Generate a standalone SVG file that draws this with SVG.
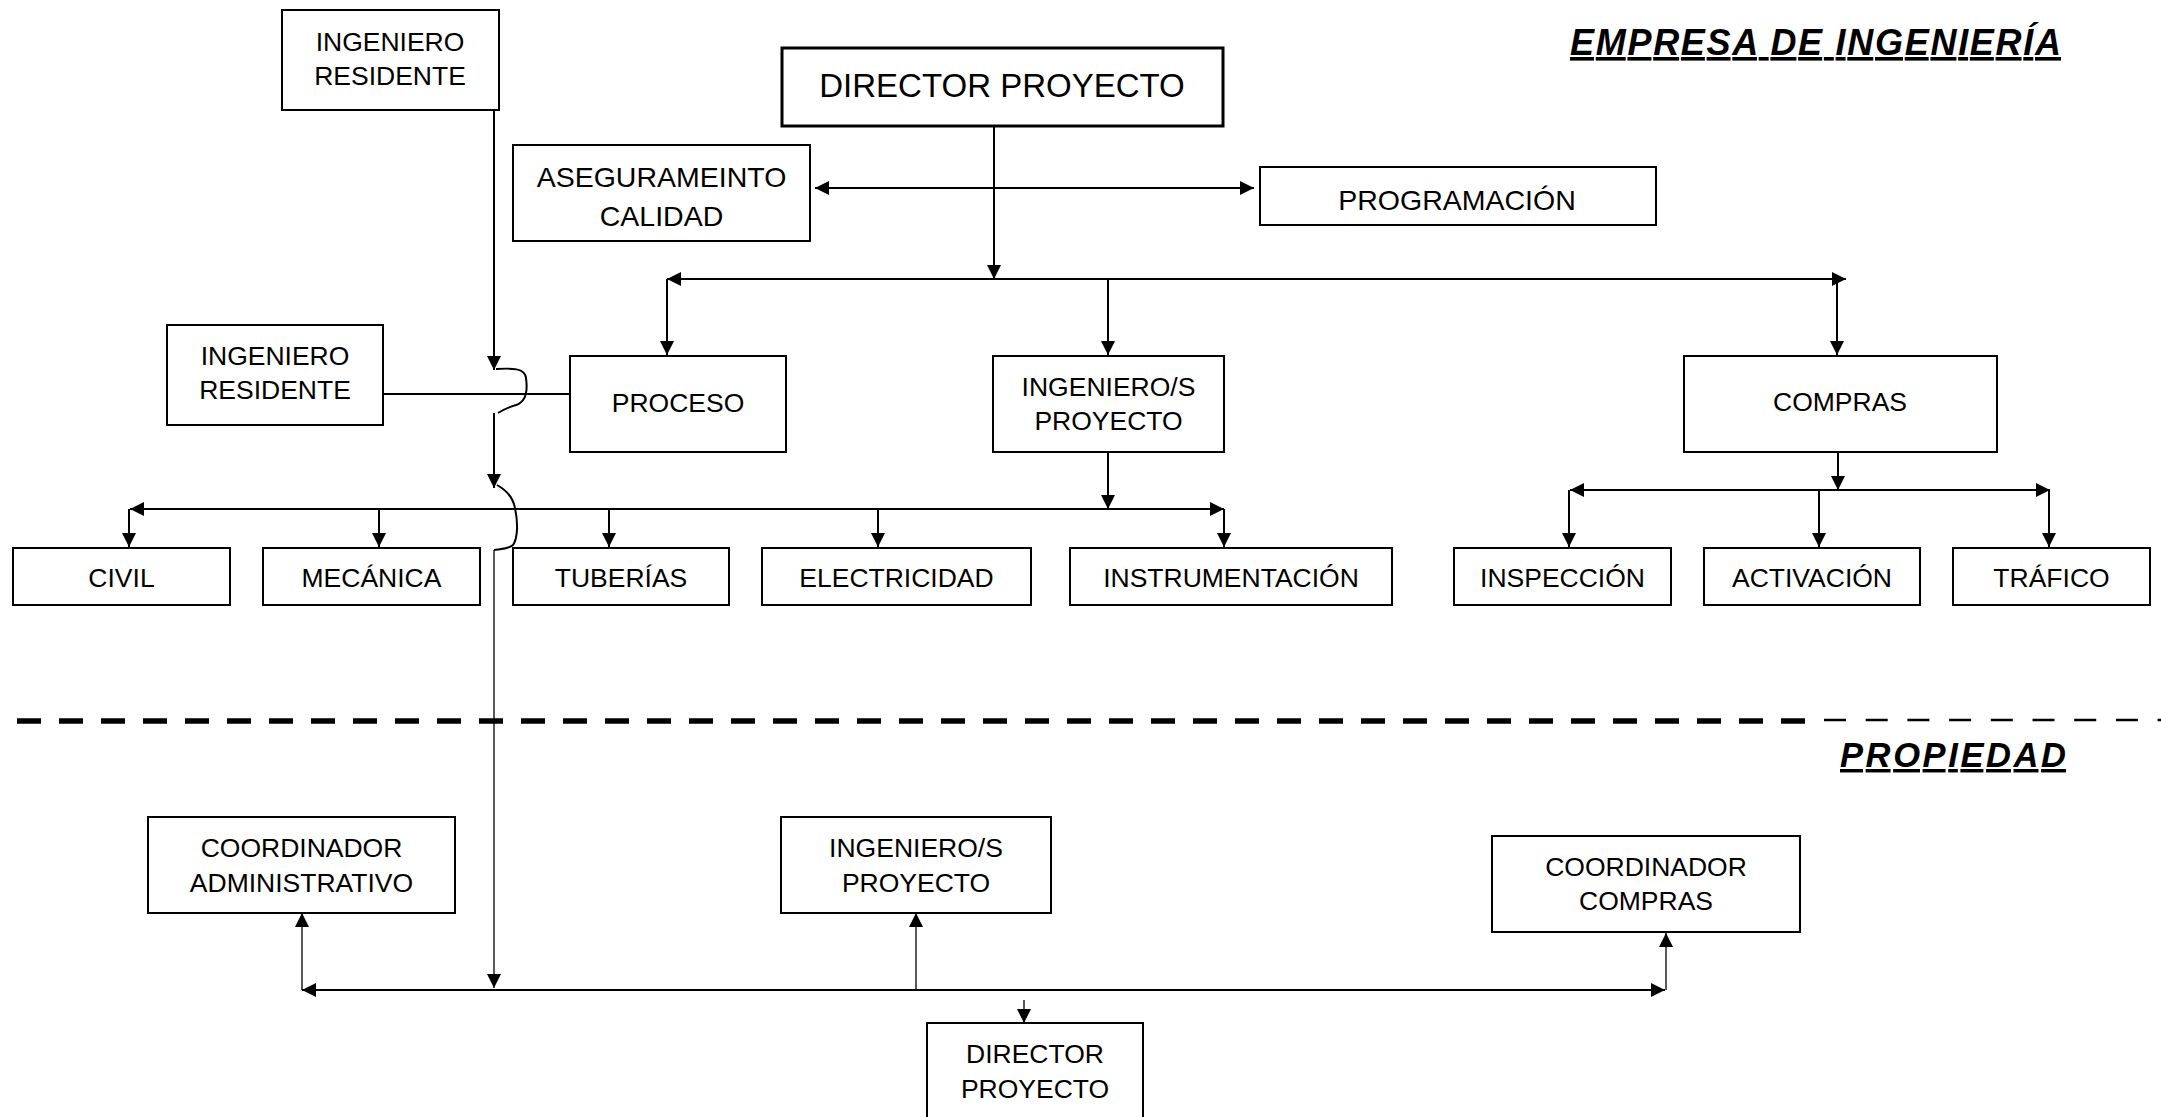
<svg xmlns="http://www.w3.org/2000/svg" width="2161" height="1117" viewBox="0 0 2161 1117">
<style>
.box{fill:#fff;stroke:#000;stroke-width:2}
.bx3{stroke-width:3}
.t{font-family:"Liberation Sans",Arial,sans-serif;font-size:26.5px;text-anchor:middle;fill:#000}
.big{font-size:33px}
.mid{font-size:28.5px}
.title{font-family:"Liberation Sans",Arial,sans-serif;font-weight:bold;font-style:italic;text-decoration:underline;fill:#000}
.c{stroke:#000;stroke-width:2;fill:none}
.thin{stroke-width:1.3}
.ae{marker-end:url(#ah)}
.ab{marker-start:url(#ah);marker-end:url(#ah)}
</style>
<defs>
<marker id="ah" markerUnits="userSpaceOnUse" viewBox="0 0 14 14" markerWidth="14" markerHeight="14" refX="14" refY="7" orient="auto-start-reverse">
<path d="M0,0 L14,7 L0,14 z" fill="#000"/>
</marker>
</defs>
<rect width="2161" height="1117" fill="#fff"/>

<g id="titles">
<text class="title" x="1570" y="55" font-size="36" textLength="491" lengthAdjust="spacing">EMPRESA DE INGENIERÍA</text>
<text class="title" x="1840" y="767" font-size="34.5" textLength="226" lengthAdjust="spacing">PROPIEDAD</text>
</g>

<g id="separator">
<path d="M17,721 H1806" stroke="#000" stroke-width="5.5" stroke-dasharray="24 18"/>
<path d="M1824,720 H2161" stroke="#000" stroke-width="2.5" stroke-dasharray="22 19.7"/>
</g>

<g id="connectors">
<path class="c ae" d="M994,126 V279"/>
<path class="c ab" d="M815,188 H1254"/>
<path class="c ab" d="M667,279 H1846"/>
<path class="c ae" d="M667,279 V355"/>
<path class="c ae" d="M1108,279 V355"/>
<path class="c ae" d="M1837,279 V355"/>
<path class="c ae" d="M494,106 V370"/>
<path class="c" d="M496,369 C512,368 525,368 526,378 C528,392 525,402 516,405 C508,407 503,410 498,413"/>
<path class="c ae" d="M494,413 V488"/>
<path class="c" d="M497,485 C506,490 513,497 515,508 C518,522 518,538 513,545 C509,549 500,549 494,550"/>
<path class="c thin ae" d="M494,550 V988"/>
<path class="c" d="M379,394 H570"/>
<path class="c ae" d="M1108,452 V509"/>
<path class="c ab" d="M130,509 H1224"/>
<path class="c ae" d="M129,509 V547"/>
<path class="c ae" d="M379,509 V547"/>
<path class="c ae" d="M609,509 V547"/>
<path class="c ae" d="M878,509 V547"/>
<path class="c ae" d="M1224,509 V547"/>
<path class="c ae" d="M1838,452 V490"/>
<path class="c ab" d="M1570,490 H2050"/>
<path class="c ae" d="M1569,490 V547"/>
<path class="c ae" d="M1819,490 V547"/>
<path class="c ae" d="M2049,490 V547"/>
<path class="c ab" d="M302,990 H1665"/>
<path class="c thin ae" d="M302,990 V913"/>
<path class="c thin ae" d="M916,990 V913"/>
<path class="c thin ae" d="M1666,990 V933"/>
<path class="c thin ae" d="M1024,1000 V1023"/>
</g>

<g id="n-ing-residente-1"><rect class="box" x="282" y="10" width="217" height="100"/><text class="t" x="390" y="51">INGENIERO</text><text class="t" x="390" y="85">RESIDENTE</text></g>
<g id="n-director-proyecto"><rect class="box bx3" x="782" y="48" width="441" height="78"/><text class="t big" x="1002" y="97">DIRECTOR PROYECTO</text></g>
<g id="n-aseguramiento"><rect class="box" x="513" y="145" width="297" height="96"/><text class="t mid" x="661.5" y="187">ASEGURAMEINTO</text><text class="t mid" x="661.5" y="226">CALIDAD</text></g>
<g id="n-programacion"><rect class="box" x="1260" y="167" width="396" height="58"/><text class="t mid" x="1457" y="210">PROGRAMACIÓN</text></g>
<g id="n-ing-residente-2"><rect class="box" x="167" y="325" width="216" height="100"/><text class="t" x="275" y="365">INGENIERO</text><text class="t" x="275" y="399">RESIDENTE</text></g>
<g id="n-proceso"><rect class="box" x="570" y="356" width="216" height="96"/><text class="t" x="678" y="412">PROCESO</text></g>
<g id="n-ingenieros-proyecto"><rect class="box" x="993" y="356" width="231" height="96"/><text class="t" x="1108.5" y="396">INGENIERO/S</text><text class="t" x="1108.5" y="430">PROYECTO</text></g>
<g id="n-compras"><rect class="box" x="1684" y="356" width="313" height="96"/><text class="t" x="1840" y="411">COMPRAS</text></g>

<g id="n-civil"><rect class="box" x="13" y="548" width="217" height="57"/><text class="t" x="121.5" y="587">CIVIL</text></g>
<g id="n-mecanica"><rect class="box" x="263" y="548" width="217" height="57"/><text class="t" x="371.5" y="587">MECÁNICA</text></g>
<g id="n-tuberias"><rect class="box" x="513" y="548" width="216" height="57"/><text class="t" x="621" y="587">TUBERÍAS</text></g>
<g id="n-electricidad"><rect class="box" x="762" y="548" width="269" height="57"/><text class="t" x="896.5" y="587">ELECTRICIDAD</text></g>
<g id="n-instrumentacion"><rect class="box" x="1070" y="548" width="322" height="57"/><text class="t" x="1231" y="587">INSTRUMENTACIÓN</text></g>
<g id="n-inspeccion"><rect class="box" x="1454" y="548" width="217" height="57"/><text class="t" x="1562.5" y="587">INSPECCIÓN</text></g>
<g id="n-activacion"><rect class="box" x="1704" y="548" width="216" height="57"/><text class="t" x="1812" y="587">ACTIVACIÓN</text></g>
<g id="n-trafico"><rect class="box" x="1953" y="548" width="197" height="57"/><text class="t" x="2051.5" y="587">TRÁFICO</text></g>

<g id="n-coordinador-administrativo"><rect class="box" x="148" y="817" width="307" height="96"/><text class="t" x="301.5" y="857">COORDINADOR</text><text class="t" x="301.5" y="892">ADMINISTRATIVO</text></g>
<g id="n-ingenieros-proyecto-2"><rect class="box" x="781" y="817" width="270" height="96"/><text class="t" x="916" y="857">INGENIERO/S</text><text class="t" x="916" y="892">PROYECTO</text></g>
<g id="n-coordinador-compras"><rect class="box" x="1492" y="836" width="308" height="96"/><text class="t" x="1646" y="876">COORDINADOR</text><text class="t" x="1646" y="910">COMPRAS</text></g>
<g id="n-director-proyecto-2"><rect class="box" x="927" y="1023" width="216" height="110"/><text class="t" x="1035" y="1063">DIRECTOR</text><text class="t" x="1035" y="1098">PROYECTO</text></g>
</svg>
